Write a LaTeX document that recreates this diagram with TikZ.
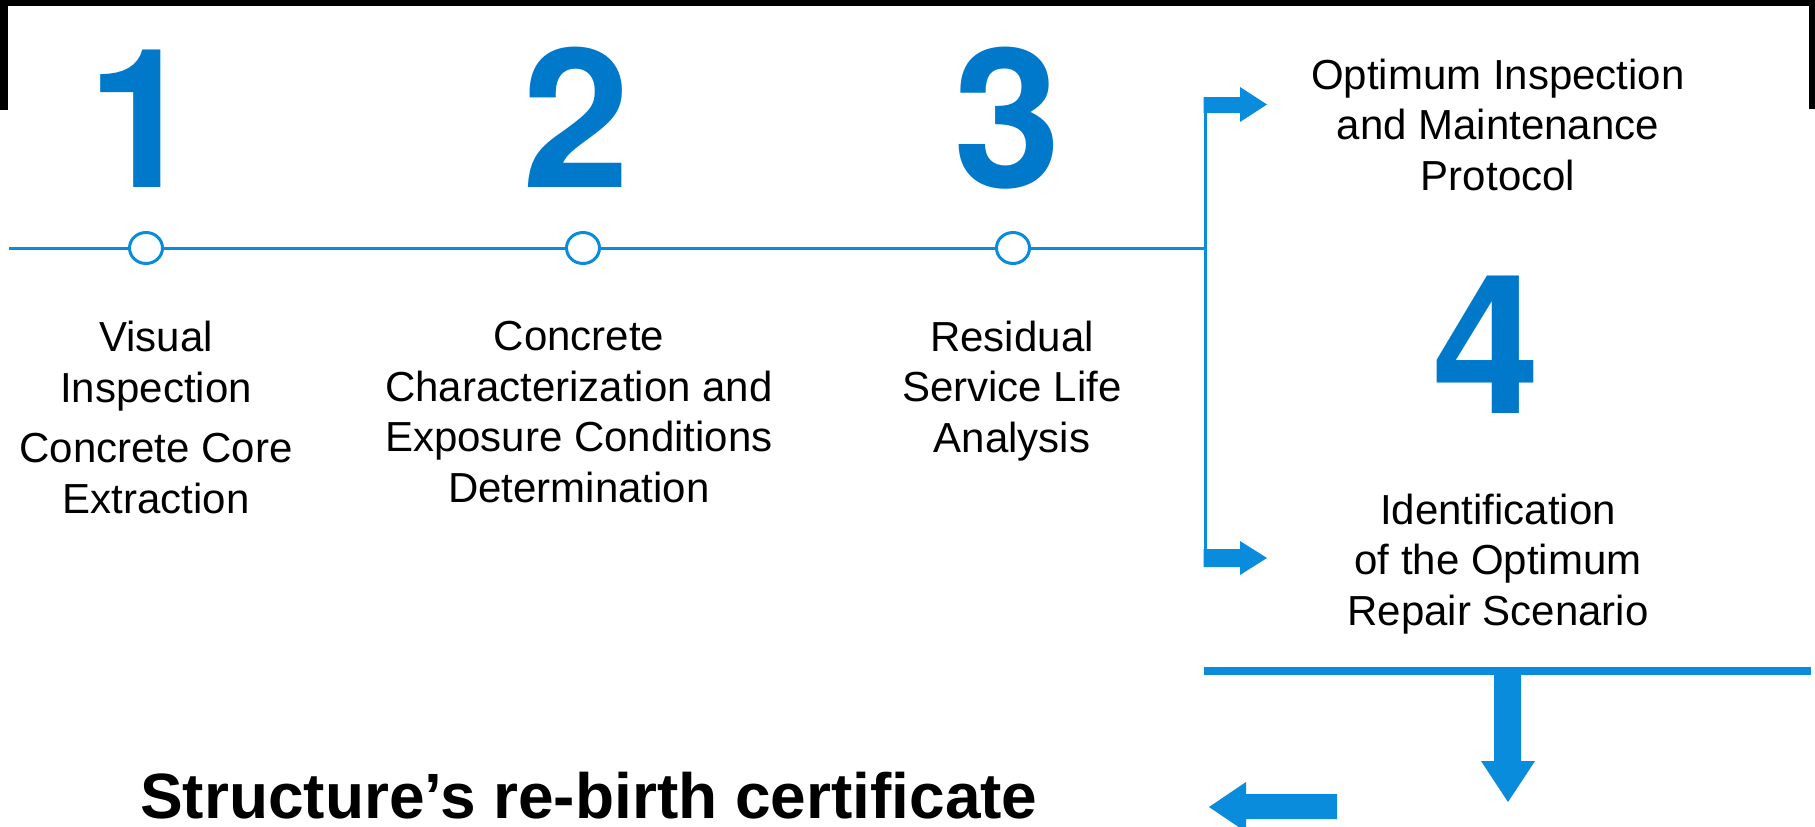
\documentclass[tikz,border=0pt]{standalone}
\usepackage{fontspec}
\setmainfont{Liberation Sans}
\newfontfamily\digitfont{TeX Gyre Heros}
\usetikzlibrary{shapes.geometric}
\definecolor{numblue}{HTML}{0079CA}
\definecolor{lineblue}{HTML}{0A8CDC}
\tikzset{
  % multi-line labels: the base anchor sits on the baseline of the last line
  lbl/.style={font=\fontsize{42}{50.5}\selectfont, align=center, inner sep=0pt, anchor=base},
  num/.style={font=\digitfont\fontsize{194}{194}\selectfont\bfseries, text=numblue, inner sep=0pt, anchor=base},
  dot/.style={ellipse, draw=lineblue, line width=3pt, fill=white, minimum width=33pt, minimum height=31pt, inner sep=0pt},
  tl/.style={draw=lineblue, line width=3pt},
  blockarrow/.style={fill=lineblue},
}
\begin{document}
\begin{tikzpicture}[x=1pt,y=-1pt]
\useasboundingbox (0,0) rectangle (1815,827);
\fill[white] (0,0) rectangle (1815,827);

% frame fragments along the top
\fill[black] (0,0) rectangle (1815,6);
\fill[black] (0,0) rectangle (8,110);
\fill[black] (1809,0) rectangle (1815,109);

% timeline and its stations
\coordinate (start) at (9,248);
\coordinate (split) at (1205,248);
\draw[tl] (start) -- (split);
\node[dot] (c1) at (146,248) {};
\node[dot] (c2) at (583,248) {};
\node[dot] (c3) at (1013,248) {};

% step numbers
\node[num] (n1) at (141,187) {1};
\node[num] (n2) at (576,187) {2};
\node[num] (n3) at (1007,187) {3};
\node[num] (n4) at (1486,413) {4};

% step descriptions
\node[lbl] (t1) at (156,513) {Visual\\Inspection\\[10pt]Concrete Core\\Extraction};
\node[lbl] (t2) at (579,502) {Concrete\\Characterization and\\Exposure Conditions\\Determination};
\node[lbl] (t3) at (1012,452) {Residual\\Service Life\\Analysis};
\node[lbl] (t4a) at (1498,190) {Optimum Inspection\\and Maintenance\\Protocol};
\node[lbl] (t4b) at (1498,625) {Identification\\of the Optimum\\Repair Scenario};

% branching bracket with its two block arrows
\coordinate (bt) at (1205,97);
\coordinate (bb) at (1205,567);
\draw[tl] (bt) -- (bb);
\fill[blockarrow] (1203.5,97) -- (1240,97) -- (1240,87) -- (1267,104.5) -- (1240,122) -- (1240,113) -- (1203.5,113) -- cycle;
\fill[blockarrow] (1203.5,549) -- (1240,549) -- (1240,541) -- (1267,558) -- (1240,575) -- (1240,567) -- (1203.5,567) -- cycle;

% collecting bar, down arrow and return arrow
\fill[blockarrow] (1204,667) rectangle (1811,675);
\fill[blockarrow] (1494,675) -- (1521,675) -- (1521,761) -- (1535,761) -- (1508,802) -- (1481,761) -- (1494,761) -- cycle;
\fill[blockarrow] (1337,794) -- (1246,794) -- (1246,782) -- (1209,807) -- (1246,832) -- (1246,819) -- (1337,819) -- cycle;

% outcome
\node[font=\fontsize{64}{64}\selectfont\bfseries, inner sep=0pt, anchor=base west] (cert) at (140,818) {Structure’s re-birth certificate};
\end{tikzpicture}
\end{document}
